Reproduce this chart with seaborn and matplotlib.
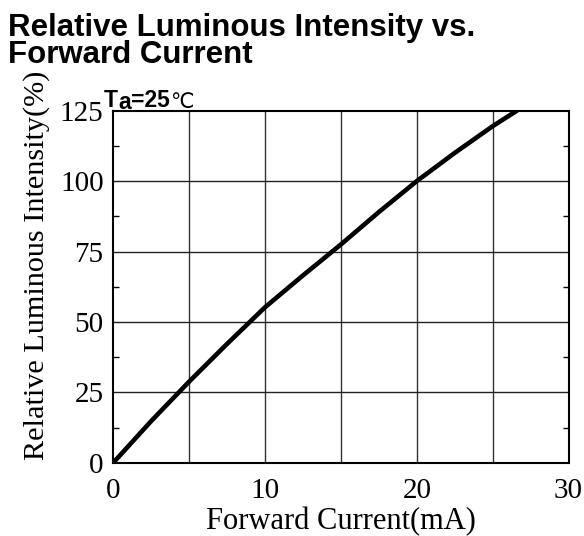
import numpy as np
import pandas as pd
import matplotlib
matplotlib.use("Agg")
import matplotlib.pyplot as plt
from matplotlib.ticker import MultipleLocator
import seaborn as sns

# valores
corrente_ma = [0, 2.5, 5, 7.5, 10, 12.5, 15, 17.5, 20, 22.5, 25, 26.6]
intensidade_rel = [0, 14.8, 28.8, 42.2, 55.2, 66.5, 77.5, 89, 100, 110, 119.5, 125]

x_ticks = [0, 10, 20, 30]
y_ticks = [0, 25, 50, 75, 100, 125]

df = pd.DataFrame({"I": corrente_ma, "L": intensidade_rel})

sns.set_style("white")
plt.rcParams["font.family"] = ["Liberation Serif", "DejaVu Serif"]
plt.rcParams["text.color"] = "black"
plt.rcParams["axes.labelcolor"] = "black"
plt.rcParams["xtick.color"] = "black"
plt.rcParams["ytick.color"] = "black"

fig = plt.figure(figsize=(5.84, 5.36), dpi=100)
ax = fig.add_axes([113.3 / 584, 1 - 462.7 / 536, (568.5 - 113.3) / 584, (462.7 - 110.7) / 536])

sns.lineplot(data=df, x="I", y="L", ax=ax, color="black", linewidth=3.3)

ax.set_xlim(0, 30)
ax.set_ylim(0, 125)
ax.set_xticks(x_ticks)
ax.set_yticks(y_ticks)
ax.yaxis.set_minor_locator(MultipleLocator(12.5))

# grade: linhas verticais a cada 5 mA, horizontais a cada 25 %
for v in np.arange(5, 30, 5):
    ax.axvline(v, color="#333333", lw=1.0, zorder=0)
for h in y_ticks[1:-1]:
    ax.axhline(h, color="#222222", lw=1.0, zorder=0)

ax.tick_params(axis="x", which="both", length=0, labelsize=21, pad=11)
ax.tick_params(axis="y", which="major", length=0, labelsize=21, pad=7)
ax.tick_params(axis="y", which="minor", direction="in", length=4, width=1,
               left=True, right=True)

for s in ax.spines.values():
    s.set_visible(True)
    s.set_color("black")
    s.set_linewidth(1.5)

ax.set_xlabel("Forward Current(mA)", fontsize=22, labelpad=2)
ax.set_ylabel("Relative Luminous Intensity(%)", fontsize=21.8)
ax.yaxis.set_label_coords(-0.138, 0.56)

# título em duas linhas bem juntas (baseline = última linha)
fig.text(8 / 584, 1 - 63 / 536, "Relative Luminous Intensity vs.\nForward Current",
         family="Liberation Sans", fontweight="bold", fontsize=22.5,
         va="baseline", linespacing=0.885)

# Ta=25℃ com o "a" um pouco rebaixado
fonte_ta = dict(family=["Liberation Sans", "DejaVu Sans"], fontweight="bold", fontsize=16.5)
t1 = fig.text(104 / 584, 1 - 107 / 536, "T", va="baseline", **fonte_ta)
a1 = ax.annotate("a", xy=(1, 0), xycoords=t1, xytext=(0.3, -1.5), textcoords="offset points",
                 va="bottom", ha="left", annotation_clip=False, **fonte_ta)
a2 = ax.annotate("=25", xy=(1, 0), xycoords=a1, xytext=(0, 1.5), textcoords="offset points",
                 va="bottom", ha="left", annotation_clip=False, **fonte_ta)
ax.annotate("℃", xy=(1, 0), xycoords=a2, xytext=(0.5, 0), textcoords="offset points",
            va="bottom", ha="left", annotation_clip=False,
            family="DejaVu Sans", fontsize=15)

fig.savefig("out.png", dpi=100)
